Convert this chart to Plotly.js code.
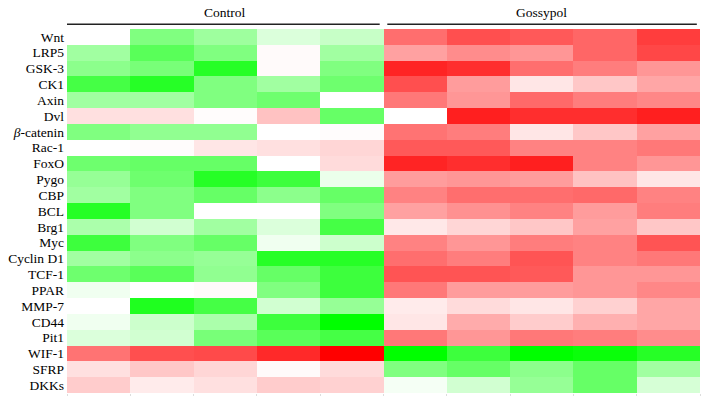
<!DOCTYPE html>
<html>
<head>
<meta charset="utf-8">
<script src="https://cdn.plot.ly/plotly-3.0.1.min.js"></script>
<style>body{margin:0;background:#fff}</style>
</head>
<body>
<div id="heat" style="width:710px;height:403px"></div>
<script>
var genes = ['Wnt','LRP5','GSK-3','CK1','Axin','Dvl','<i>β</i>-catenin','Rac-1','FoxO','Pygo','CBP','BCL','Brg1','Myc','Cyclin D1','TCF-1','PPAR','MMP-7','CD44','Pit1','WIF-1','SFRP','DKKs'];

var groups = ['Control','Gossypol'];

// 5 control samples per gene
var control = [
    [0, -0.5, -0.38, -0.14, -0.22],
    [-0.37, -0.65, -0.5, 0.02, -0.37],
    [-0.45, -0.53, -0.85, 0.02, -0.5],
    [-0.73, -0.85, -0.5, -0.37, -0.57],
    [-0.37, -0.37, -0.5, -0.57, 0],
    [0.12, 0.12, 0.01, 0.24, -0.6],
    [-0.5, -0.43, -0.43, 0, 0.01],
    [0, 0.01, 0.1, 0.12, 0.16],
    [-0.57, -0.6, -0.6, 0, 0.14],
    [-0.41, -0.57, -0.85, -0.76, -0.08],
    [-0.37, -0.5, -0.6, -0.45, -0.6],
    [-0.85, -0.5, 0, 0, -0.5],
    [-0.33, -0.18, -0.37, -0.14, -0.73],
    [-0.76, -0.5, -0.6, -0.06, -0.2],
    [-0.37, -0.45, -0.41, -0.85, -0.85],
    [-0.57, -0.65, -0.43, -0.6, -0.76],
    [-0.06, 0, 0.02, -0.5, -0.76],
    [0, -0.88, -0.73, -0.18, -0.41],
    [-0.06, -0.2, -0.33, -0.76, -1],
    [-0.14, -0.18, -0.53, -0.65, -0.73],
    [0.55, 0.69, 0.71, 0.84, 1],
    [0.12, 0.22, 0.16, 0.02, 0.14],
    [0.2, 0.08, 0.12, 0.2, 0.18]
];

// 5 gossypol samples per gene
var gossypol = [
    [0.57, 0.69, 0.65, 0.6, 0.76],
    [0.37, 0.45, 0.41, 0.6, 0.72],
    [0.86, 0.82, 0.57, 0.51, 0.41],
    [0.69, 0.39, 0.1, 0.22, 0.35],
    [0.53, 0.41, 0.59, 0.51, 0.47],
    [0, 0.88, 0.82, 0.82, 0.88],
    [0.55, 0.51, 0.1, 0.22, 0.37],
    [0.65, 0.65, 0.49, 0.49, 0.53],
    [0.86, 0.82, 0.88, 0.49, 0.41],
    [0.39, 0.41, 0.39, 0.24, 0.1],
    [0.49, 0.57, 0.57, 0.59, 0.49],
    [0.37, 0.43, 0.49, 0.39, 0.51],
    [0.09, 0.16, 0.22, 0.37, 0.22],
    [0.49, 0.41, 0.51, 0.49, 0.67],
    [0.57, 0.51, 0.67, 0.49, 0.53],
    [0.67, 0.67, 0.65, 0.41, 0.41],
    [0.53, 0.39, 0.39, 0.41, 0.47],
    [0.08, 0.14, 0.1, 0.18, 0.35],
    [0.1, 0.33, 0.2, 0.31, 0.35],
    [0.53, 0.41, 0.53, 0.51, 0.45],
    [-1, -0.76, -1, -0.96, -0.85],
    [-0.5, -0.6, -0.45, -0.6, -0.37],
    [-0.04, -0.18, -0.41, -0.6, -0.16]
];

var z = genes.map(function (g, i) { return control[i].concat(gossypol[i]); });
var cols = [0,1,2,3,4,5,6,7,8,9];

var serif = "'Liberation Serif', 'DejaVu Serif', serif";

var trace = {
    type: 'heatmap',
    z: z,
    x: cols,
    y: genes,
    zmin: -1,
    zmax: 1,
    colorscale: [[0, 'rgb(0,255,0)'], [0.5, 'rgb(255,255,255)'], [1, 'rgb(255,0,0)']],
    showscale: false,
    hoverinfo: 'none'
};

var layout = {
    width: 710,
    height: 403,
    margin: {l: 67, r: 10, t: 29, b: 10},
    paper_bgcolor: '#fff',
    plot_bgcolor: '#fff',
    font: {family: serif, size: 13, color: '#000'},
    xaxis: {
        range: [-0.5, 9.5],
        showgrid: false, zeroline: false, showline: false,
        showticklabels: false,
        tickvals: [-0.5,0.5,1.5,2.5,3.5,4.5,5.5,6.5,7.5,8.5,9.5],
        ticks: 'outside', ticklen: 2, tickcolor: '#ddd'
    },
    yaxis: {
        autorange: 'reversed',
        showgrid: false, zeroline: false, showline: false,
        tickmode: 'array', tickvals: genes, ticktext: genes,
        ticks: '', ticklabelstandoff: 2,
        tickfont: {family: serif, size: 13.5, color: '#000'}
    },
    shapes: [
        {type: 'line', xref: 'x', yref: 'paper', x0: -0.5, x1: 4.44, y0: 1.013, y1: 1.013, line: {color: '#222', width: 1.3}},
        {type: 'line', xref: 'x', yref: 'paper', x0: 4.56, x1: 9.45, y0: 1.013, y1: 1.013, line: {color: '#222', width: 1.3}}
    ],
    annotations: [
        {text: groups[0], xref: 'x', yref: 'paper', x: 2, y: 1.045, yanchor: 'middle', showarrow: false, font: {family: serif, size: 13.5, color: '#000'}},
        {text: groups[1], xref: 'x', yref: 'paper', x: 7, y: 1.045, yanchor: 'middle', showarrow: false, font: {family: serif, size: 13.5, color: '#000'}}
    ]
};

Plotly.newPlot('heat', [trace], layout, {displayModeBar: false, staticPlot: true});
</script>
</body>
</html>
